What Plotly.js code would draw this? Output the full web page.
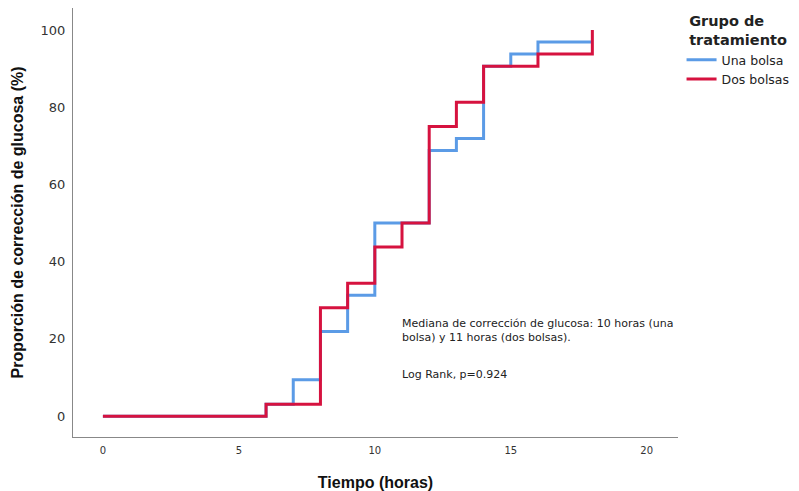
<!DOCTYPE html>
<html>
<head>
<meta charset="utf-8">
<script src="https://cdn.plot.ly/plotly-3.0.1.min.js"></script>
<style>html,body{margin:0;padding:0;background:#fff;}#chart{width:799px;height:491px;}</style>
</head>
<body>
<div id="chart"></div>
<script>
// Kaplan-Meier style cumulative proportion (%), step at each hour
const timesUna = [0, 6, 7, 8, 9, 10, 11, 12, 13, 14, 15, 16, 18];
const valuesUna = [0, 3.1, 9.4, 21.9, 31.3, 50.0, 50.0, 68.8, 71.9, 90.6, 93.8, 96.9, 96.9];
const timesDos = [0, 6, 7, 8, 9, 10, 11, 12, 13, 14, 15, 16, 18];
const valuesDos = [0, 3.1, 3.1, 28.1, 34.4, 43.8, 50.0, 75.0, 81.3, 90.6, 90.6, 93.8, 100];
const seriesNames = ['Una bolsa', 'Dos bolsas'];
const xTicks = [0, 5, 10, 15, 20];
const yTicks = [0, 20, 40, 60, 80, 100];
const noteMedian = 'Mediana de corrección de glucosa: 10 horas (una<br>bolsa) y 11 horas (dos bolsas).';
const noteLogRank = 'Log Rank, p=0.924';

const traces = [
  {x: timesUna, y: valuesUna, name: seriesNames[0], type: 'scatter', mode: 'lines',
   line: {shape: 'hv', color: '#5B9BE6', width: 3}},
  {x: timesDos, y: valuesDos, name: seriesNames[1], type: 'scatter', mode: 'lines',
   line: {shape: 'hv', color: '#D6123F', width: 3}}
];

const layout = {
  width: 799, height: 491,
  margin: {l: 73, r: 121, t: 8, b: 54, autoexpand: false},
  paper_bgcolor: '#fff', plot_bgcolor: '#fff',
  font: {family: 'DejaVu Sans, sans-serif', color: '#333'},
  xaxis: {
    range: [-1.1, 21.15], tickvals: xTicks, ticktext: xTicks.map(String),
    showgrid: false, zeroline: false, showline: true, linecolor: '#888', linewidth: 1,
    ticks: 'outside', ticklen: 4, tickcolor: 'rgba(0,0,0,0)',
    tickfont: {size: 10, color: '#333'},
    title: {text: 'Tiempo (horas)', standoff: 22,
      font: {family: 'Liberation Sans, Arial, sans-serif', size: 16, color: '#111', weight: 'bold'}}
  },
  yaxis: {
    range: [-5.4, 105.7], tickvals: yTicks, ticktext: yTicks.map(String),
    showgrid: false, zeroline: false, showline: true, linecolor: '#888', linewidth: 1,
    ticks: 'outside', ticklen: 4, tickcolor: 'rgba(0,0,0,0)',
    tickfont: {size: 13, color: '#333'},
    title: {text: 'Proporción de corrección de glucosa (%)', standoff: 12,
      font: {family: 'Liberation Sans, Arial, sans-serif', size: 16, color: '#111', weight: 'bold'}}
  },
  legend: {
    xref: 'container', yref: 'container',
    x: 0.853, y: 0.985, xanchor: 'left', yanchor: 'top',
    bgcolor: 'rgba(0,0,0,0)', tracegroupgap: 0,
    font: {size: 12.5, color: '#222'},
    title: {text: 'Grupo de<br>tratamiento', side: 'top center',
      font: {size: 14.5, color: '#222', weight: 'bold'}},
    itemwidth: 30
  },
  annotations: [
    {x: 10.92, y: 22.2, xref: 'x', yref: 'y', xanchor: 'left', yanchor: 'middle',
     text: noteMedian, showarrow: false, align: 'left', font: {size: 11, color: '#222'}},
    {x: 10.92, y: 10.9, xref: 'x', yref: 'y', xanchor: 'left', yanchor: 'middle',
     text: noteLogRank, showarrow: false, align: 'left', font: {size: 11, color: '#222'}}
  ]
};

Plotly.newPlot('chart', traces, layout, {displayModeBar: false, staticPlot: true});
</script>
</body>
</html>
